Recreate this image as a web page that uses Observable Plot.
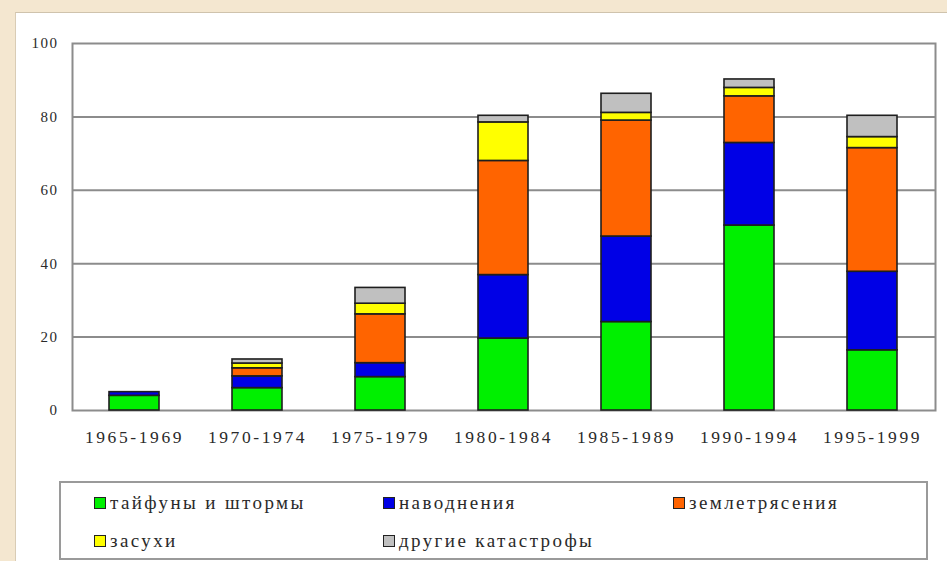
<!DOCTYPE html>
<html>
<head>
<meta charset="utf-8">
<script src="https://cdn.jsdelivr.net/npm/d3@7"></script>
<script src="https://cdn.jsdelivr.net/npm/@observablehq/plot@0.6"></script>
<style>
  html, body { margin: 0; padding: 0; }
  body { width: 947px; height: 561px; background: #f4e7d0; overflow: hidden; }
  #page { position: relative; width: 947px; height: 561px; }
  #panel {
    position: absolute; left: 15px; top: 12px; width: 940px; height: 560px;
    background: #ffffff; border-left: 1px solid #d9ccb5; border-top: 1px solid #cfc3ad;
  }
  #chart { position: absolute; left: 0; top: 0; }
  #chart svg text { font-family: "Times New Roman", "Liberation Serif", Tinos, "DejaVu Serif", "Noto Serif", serif; }
  #chart svg g[aria-label="x-axis tick label"] text { letter-spacing: 2.6px; }
  #chart svg g[aria-label="y-axis tick label"] text { letter-spacing: 1.5px; }
  #legend {
    position: absolute; left: 59px; top: 481px; width: 865px; height: 75px;
    border: 2px solid #9a9a9a; background: #fff;
    font-family: "Times New Roman", "Liberation Serif", Tinos, "DejaVu Serif", "Noto Serif", serif;
    font-size: 19px; letter-spacing: 2.4px; color: #2a2a2a;
  }
  .item { position: absolute; display: flex; align-items: center; white-space: nowrap; }
  .sw { width: 10px; height: 10px; border: 1.5px solid #222; margin-right: 4px; }
</style>
</head>
<body>
<div id="page">
  <div id="panel"></div>
  <div id="chart"></div>
  <div id="legend"></div>
</div>
<script>
// Five-year periods
const periods = ["1965-1969", "1970-1974", "1975-1979", "1980-1984", "1985-1989", "1990-1994", "1995-1999"];

// Number of events per period, by type of disaster
const typhoons = [4.0, 6.1, 9.1, 19.6, 24.1, 50.4, 16.4];
const floods   = [1.0, 3.2, 3.8, 17.3, 23.3, 22.5, 21.4];
const quakes   = [0.0, 2.2, 13.3, 31.1, 31.6, 12.7, 33.7];
const droughts = [0.0, 1.3, 2.9, 10.5, 2.1, 2.3, 3.0];
const others   = [0.0, 1.1, 4.3, 1.8, 5.2, 2.3, 5.8];

// Series names (legend labels) and fills, bottom to top of each stack
const seriesNames = ["тайфуны и штормы", "наводнения", "землетрясения", "засухи", "другие катастрофы"];
const seriesColors = ["#00f000", "#0000e6", "#ff6400", "#ffff00", "#c0c0c0"];
const seriesValues = [typhoons, floods, quakes, droughts, others];

const yTicks = [0, 20, 40, 60, 80, 100];
const gridLines = [20, 40, 60, 80];

const rows = [];
seriesNames.forEach((name, s) => {
  periods.forEach((p, i) => {
    if (seriesValues[s][i] > 0) rows.push({period: p, series: name, value: seriesValues[s][i]});
  });
});

const font = '"Times New Roman", "Liberation Serif", Tinos, "DejaVu Serif", serif';

const chart = Plot.plot({
  width: 947,
  height: 475,
  marginLeft: 72,
  marginRight: 12,
  marginTop: 43,
  marginBottom: 65,
  style: {background: "transparent", fontFamily: font, fontSize: "14px", color: "#2a2a2a"},
  x: {domain: periods, paddingInner: 0.59, paddingOuter: 0.295, label: null},
  y: {domain: [0, 100], label: null},
  color: {domain: seriesNames, range: seriesColors},
  marks: [
    Plot.ruleY(gridLines, {stroke: "#8c8c8c", strokeWidth: 2}),
    Plot.frame({stroke: "#8c8c8c", strokeWidth: 2}),
    Plot.barY(rows, Plot.stackY({order: null}, {
      x: "period", y: "value", fill: "series", z: "series",
      stroke: "#1e1e1e", strokeWidth: 1.6
    })),
    Plot.axisY({ticks: yTicks, tickSize: 0, tickPadding: 14, fontSize: 15, fill: "#2a2a2a", label: null}),
    Plot.axisX({tickSize: 0, tickPadding: 20, fontSize: 17.5, fill: "#2a2a2a", label: null})
  ]
});
document.getElementById("chart").appendChild(chart);

// Legend below the chart, laid out in two rows of up to three entries
const legend = document.getElementById("legend");
const colX = [33, 322, 612];
const rowY = [20, 58];
seriesNames.forEach((name, i) => {
  const item = document.createElement("div");
  item.className = "item";
  item.style.left = colX[i % 3] + "px";
  item.style.top = (rowY[Math.floor(i / 3)] - 12) + "px";
  item.style.height = "24px";
  const sw = document.createElement("div");
  sw.className = "sw";
  sw.style.background = seriesColors[i];
  const label = document.createElement("span");
  label.textContent = name;
  item.appendChild(sw);
  item.appendChild(label);
  legend.appendChild(item);
});
</script>
</body>
</html>
